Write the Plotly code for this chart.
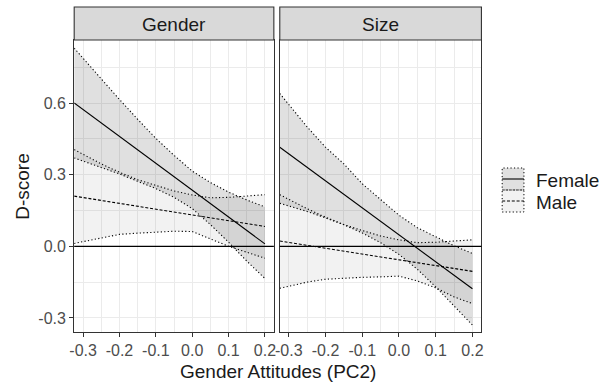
import plotly.graph_objects as go

# ---------------- data ----------------
x_vals = [-0.3245, -0.25, -0.2, -0.15, -0.1, -0.05, 0.0, 0.05, 0.1, 0.15, 0.2]
facets = ["Gender", "Size"]
groups = ["Female", "Male"]

gender_female_fit = [0.600, 0.516, 0.460, 0.404, 0.347, 0.291, 0.235, 0.179, 0.122, 0.066, 0.010]
gender_female_hi = [0.830, 0.700, 0.615, 0.532, 0.452, 0.381, 0.315, 0.267, 0.227, 0.194, 0.165]
gender_female_lo = [0.370, 0.330, 0.303, 0.272, 0.242, 0.205, 0.158, 0.091, 0.017, -0.062, -0.135]
gender_male_fit = [0.210, 0.192, 0.180, 0.168, 0.156, 0.144, 0.131, 0.119, 0.107, 0.095, 0.083]
gender_male_hi = [0.405, 0.345, 0.310, 0.279, 0.255, 0.232, 0.215, 0.203, 0.205, 0.210, 0.216]
gender_male_lo = [0.012, 0.035, 0.050, 0.055, 0.060, 0.063, 0.062, 0.030, 0.000, -0.025, -0.050]

size_female_fit = [0.415, 0.331, 0.274, 0.218, 0.161, 0.105, 0.048, -0.008, -0.065, -0.121, -0.178]
size_female_hi = [0.640, 0.500, 0.415, 0.345, 0.262, 0.195, 0.130, 0.078, 0.040, 0.002, -0.030]
size_female_lo = [0.180, 0.146, 0.119, 0.090, 0.056, 0.015, -0.034, -0.096, -0.170, -0.249, -0.330]
size_male_fit = [0.022, 0.004, -0.008, -0.020, -0.033, -0.045, -0.057, -0.069, -0.081, -0.093, -0.105]
size_male_hi = [0.216, 0.157, 0.122, 0.091, 0.066, 0.043, 0.027, 0.015, 0.017, 0.022, 0.027]
size_male_lo = [-0.176, -0.150, -0.138, -0.133, -0.130, -0.128, -0.125, -0.145, -0.174, -0.212, -0.240]

x_ticks = [-0.3, -0.2, -0.1, 0.0, 0.1, 0.2]
x_ticktext = ["-0.3", "-0.2", "-0.1", "0.0", "0.1", "0.2"]
y_ticks = [-0.3, 0.0, 0.3, 0.6]
y_ticktext = ["-0.3", "0.0", "0.3", "0.6"]
hline_y = 0.0
x_title = "Gender Attitudes (PC2)"
y_title = "D-score"

# ---------------- style ----------------
W, H = 605, 383
FONT = "Liberation Sans, Arial, sans-serif"
fill_col = {"Female": "rgba(0,0,0,0.12)", "Male": "rgba(0,0,0,0.05)"}
line_dash = {"Female": "solid", "Male": "3px,1.8px"}
DOT = "1.2px,2.3px"

def pxx(v):
    return v / W

def pxy(v):
    return 1 - v / H

panel_data = {
    "Gender": {
        "Female": (gender_female_fit, gender_female_lo, gender_female_hi),
        "Male": (gender_male_fit, gender_male_lo, gender_male_hi),
    },
    "Size": {
        "Female": (size_female_fit, size_female_lo, size_female_hi),
        "Male": (size_male_fit, size_male_lo, size_male_hi),
    },
}

fig = go.Figure()
for i, facet in enumerate(facets):
    xa = "x" if i == 0 else "x2"
    ya = "y" if i == 0 else "y2"
    for g in groups:
        fit, lo, hi = panel_data[facet][g]
        fig.add_trace(go.Scatter(
            x=x_vals + x_vals[::-1], y=hi + lo[::-1], fill="toself",
            fillcolor=fill_col[g], line=dict(width=0), mode="lines",
            xaxis=xa, yaxis=ya, showlegend=False, hoverinfo="skip"))
        for edge in (lo, hi):
            fig.add_trace(go.Scatter(
                x=x_vals, y=edge, mode="lines",
                line=dict(color="black", width=1.1, dash=DOT),
                xaxis=xa, yaxis=ya, showlegend=False, hoverinfo="skip"))
        fig.add_trace(go.Scatter(
            x=x_vals, y=fit, mode="lines",
            line=dict(color="black", width=1.1, dash=line_dash[g]),
            xaxis=xa, yaxis=ya, showlegend=False, name=g))

panel_px = [(70, 272), (278, 482)]
plot_top, plot_bot = 40, 332
strip_top = 7

xr = [-0.3245, 0.2245]
yr = [-0.359, 0.864]

axis_common = dict(
    showline=True, linecolor="#333333", linewidth=1.1, mirror=True,
    showgrid=True, gridcolor="#ebebeb", gridwidth=1.1, zeroline=False,
    ticks="outside", ticklen=4, tickwidth=1.1, tickcolor="#333333",
    tickfont=dict(family=FONT, size=16, color="#4d4d4d"),
)

layout = dict(
    width=W, height=H, margin=dict(l=0, r=0, t=0, b=0),
    paper_bgcolor="white", plot_bgcolor="white", showlegend=False,
    font=dict(family=FONT),
)
for i, (a, b) in enumerate(panel_px):
    sx = "xaxis" if i == 0 else "xaxis2"
    sy = "yaxis" if i == 0 else "yaxis2"
    layout[sx] = dict(
        axis_common, domain=[pxx(a), pxx(b)], range=xr,
        tickmode="array", tickvals=x_ticks, ticktext=x_ticktext,
        anchor="y" if i == 0 else "y2",
        minor=dict(tickmode="linear", tick0=-0.3, dtick=0.05, showgrid=True,
                   gridcolor="#ebebeb", gridwidth=0.6, ticks=""),
    )
    ydict = dict(
        axis_common, domain=[pxy(plot_bot), pxy(plot_top)], range=yr,
        tickmode="array", tickvals=y_ticks, ticktext=y_ticktext,
        anchor="x" if i == 0 else "x2",
        minor=dict(tickmode="linear", tick0=0, dtick=0.15, showgrid=True,
                   gridcolor="#ebebeb", gridwidth=0.6, ticks=""),
    )
    if i == 1:
        ydict.update(matches="y", showticklabels=False, ticks="")
    layout[sy] = ydict

fig.update_layout(**layout)

shapes = []
annotations = []
for i, facet in enumerate(facets):
    a, b = panel_px[i]
    shapes.append(dict(type="rect", xref="paper", yref="paper",
                       x0=pxx(a), x1=pxx(b), y0=pxy(plot_top), y1=pxy(strip_top),
                       fillcolor="#d9d9d9", line=dict(color="#333333", width=1.1),
                       layer="above"))
    annotations.append(dict(text=facet, xref="paper", yref="paper",
                            x=pxx((a + b) / 2), y=pxy((plot_top + strip_top) / 2 + 1),
                            showarrow=False, xanchor="center", yanchor="middle",
                            font=dict(family=FONT, size=19, color="#1a1a1a")))
    xd = "x domain" if i == 0 else "x2 domain"
    yref = "y" if i == 0 else "y2"
    shapes.append(dict(type="line", xref=xd, yref=yref, x0=0, x1=1,
                       y0=hline_y, y1=hline_y,
                       line=dict(color="black", width=1.3), layer="above"))

# axis titles
annotations.append(dict(text=x_title, xref="paper", yref="paper",
                        x=pxx(276), y=pxy(371), showarrow=False,
                        xanchor="center", yanchor="middle",
                        font=dict(family=FONT, size=19, color="#1a1a1a")))
annotations.append(dict(text=y_title, xref="paper", yref="paper",
                        x=pxx(17), y=pxy(186), showarrow=False, textangle=-90,
                        xanchor="center", yanchor="middle",
                        font=dict(family=FONT, size=19, color="#1a1a1a")))

# legend (drawn manually)
key_x0, key_x1 = 503, 525
key_rows = [(168, 190), (190, 212)]
for g, (t, bt) in zip(groups, key_rows):
    shapes.append(dict(type="rect", xref="paper", yref="paper",
                       x0=pxx(key_x0), x1=pxx(key_x1), y0=pxy(bt), y1=pxy(t),
                       fillcolor=fill_col[g],
                       line=dict(color="black", width=1, dash=DOT)))
    ym = (t + bt) / 2
    shapes.append(dict(type="line", xref="paper", yref="paper",
                       x0=pxx(key_x0), x1=pxx(key_x1), y0=pxy(ym), y1=pxy(ym),
                       line=dict(color="black", width=1.1, dash=line_dash[g])))
    annotations.append(dict(text=g, xref="paper", yref="paper",
                            x=pxx(535), y=pxy(ym + 1), showarrow=False,
                            xanchor="left", yanchor="middle",
                            font=dict(family=FONT, size=19, color="#1a1a1a")))

fig.update_layout(shapes=shapes, annotations=annotations)
fig.write_html(
    "out.html",
    config={"displayModeBar": False},
    post_script="document.body.style.margin='0';document.body.style.overflow='hidden';",
)
